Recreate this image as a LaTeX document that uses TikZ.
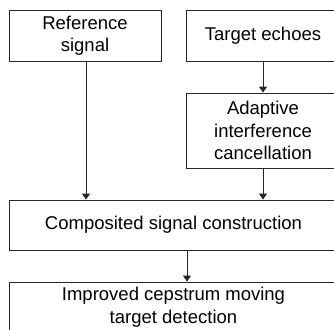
\documentclass[tikz,border=0pt]{standalone}
\usepackage{fontspec}
\setmainfont{Liberation Sans}
\usetikzlibrary{arrows.meta}
\begin{document}
\begin{tikzpicture}[x=1pt, y=-1pt,
  box/.style={draw=black!85, line width=0.9pt, fill=white, inner sep=0pt,
    align=center, font=\fontsize{18.5}{22.5}\selectfont},
  arr/.style={draw=black!85, line width=0.9pt,
    -{Triangle[width=8pt,length=6pt]}}]
  \useasboundingbox (0,0) rectangle (334,329);
  \clip (0,0) rectangle (334,329);

  % process boxes
  \node[box, minimum width=152pt, minimum height=51pt] (ref) at (85,35.5)
    {Reference\\signal};
  \node[box, minimum width=154pt, minimum height=51pt] (echo) at (263,35.5)
    {Target echoes};
  \node[box, minimum width=154pt, minimum height=75pt] (aic) at (263,130.5)
    {Adaptive\\interference\\cancellation};
  \node[box, minimum width=329pt, minimum height=50pt] (comp) at (173.5,225)
    {Composited signal construction};
  \node[box, minimum width=329pt, minimum height=50pt] (det) at (173.5,307)
    {Improved cepstrum moving\\target detection};

  % connectors
  \draw[arr] ([xshift=1pt]ref.south) -- ([xshift=1pt]ref.south |- comp.north);
  \draw[arr] (echo.south) -- (aic.north);
  \draw[arr] (aic.south) -- (aic.south |- comp.north);
  \draw[arr] ([xshift=13.5pt]comp.south) -- ([xshift=13.5pt]det.north);
\end{tikzpicture}
\end{document}
